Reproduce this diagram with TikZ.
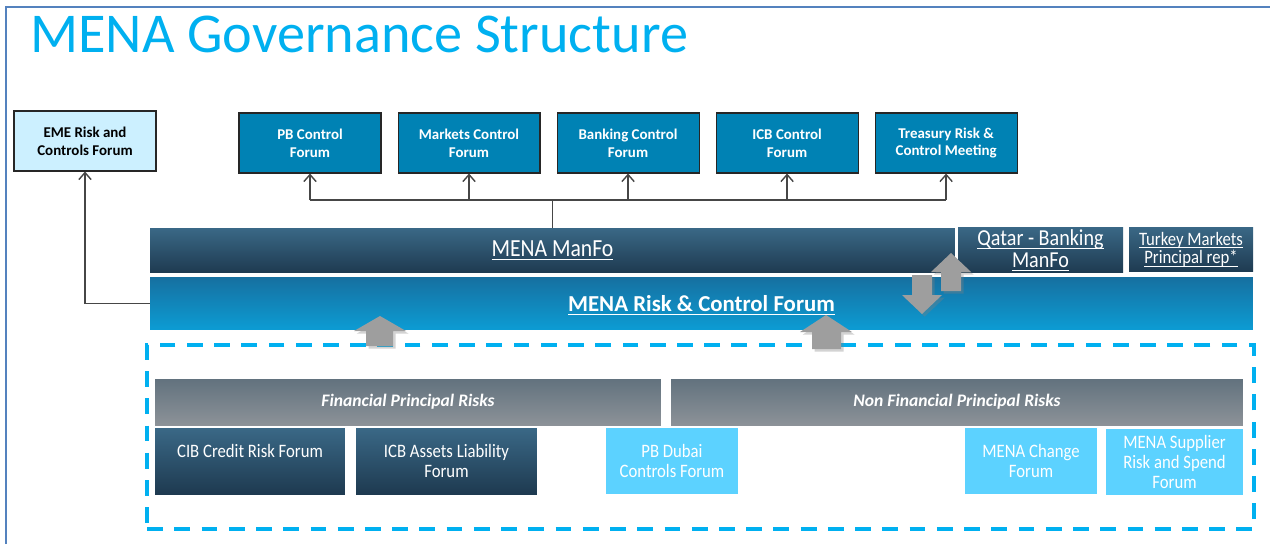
\documentclass[tikz,border=0pt]{standalone}
\usepackage{fontspec}
\setmainfont{Carlito}
\newfontfamily\condfont[FakeStretch=0.88]{Carlito}
\newcommand\ulbar[1]{\setbox0\hbox{#1}\rlap{\rule[-1.8pt]{\wd0}{0.55pt}}\box0}
\usepackage{tikz}
\usetikzlibrary{positioning,arrows.meta,shadows}
\definecolor{titlecyan}{RGB}{0,176,240}
\definecolor{frameblue}{RGB}{84,130,190}
\definecolor{forumblue}{RGB}{0,130,180}
\definecolor{emecyan}{RGB}{204,240,255}
\definecolor{navytop}{RGB}{58,104,134}
\definecolor{navybot}{RGB}{30,58,80}
\definecolor{risktop}{RGB}{22,112,160}
\definecolor{riskbot}{RGB}{12,156,212}
\definecolor{slatetop}{RGB}{98,114,126}
\definecolor{slatebot}{RGB}{140,146,152}
\definecolor{skycyan}{RGB}{92,210,255}
\definecolor{arrowgray}{RGB}{158,158,158}
\definecolor{linegray}{RGB}{70,70,70}
\tikzset{
  topforum/.style={draw=black!85,line width=0.6pt,fill=forumblue,text=white,minimum width=2.84cm,minimum height=1.2cm,inner sep=1pt,align=center,font=\fontsize{8.5}{10.2}\selectfont\bfseries},
  emebox/.style={topforum,fill=emecyan,text=black},
  navybar/.style={top color=navytop,bottom color=navybot,text=white,align=center,inner sep=0pt},
  riskbar/.style={top color=risktop,bottom color=riskbot,text=white,align=center,inner sep=0pt},
  slatebar/.style={top color=slatetop,bottom color=slatebot,text=white,inner sep=0pt,minimum height=0.92cm,font=\fontsize{10}{12}\selectfont\bfseries\itshape},
  lowdark/.style={navybar,minimum height=1.32cm,font=\condfont\fontsize{10.8}{11.4}\selectfont},
  lowlight/.style={fill=skycyan,text=white,align=center,inner sep=0pt,minimum height=1.32cm,font=\condfont\fontsize{10.8}{11.4}\selectfont},
  grpbox/.style={draw=titlecyan,line width=2.2pt,dash pattern=on 9pt off 6.5pt,minimum width=22.14cm,minimum height=3.68cm,inner sep=0pt},
  blockarrow/.style={fill=arrowgray,drop shadow={shadow xshift=1.5pt,shadow yshift=-1.5pt,opacity=0.35}},
  conn/.style={draw=linegray,line width=0.8pt},
}

\begin{document}
\begin{tikzpicture}[x=0.02cm,y=-0.02cm,>={Straight Barb[length=4pt,width=7pt]}]
\useasboundingbox (0,0) rectangle (1270,544);

\draw[frameblue,line width=1.2pt] (6,544) -- (6,7) -- (1270,7);
\node[anchor=base west,inner sep=0pt,text=titlecyan,font=\fontsize{32}{38}\selectfont] (title) at (30,53) {MENA Governance Structure};

% top forums
\node[emebox] (eme) at (85,141) {EME Risk and\\Controls Forum};
\node[topforum] (pb) at (310,143) {PB Control\\Forum};
\node[topforum,right=0.32cm of pb] (mkt) {Markets Control\\Forum};
\node[topforum,right=0.32cm of mkt] (bank) {Banking Control\\Forum};
\node[topforum,right=0.32cm of bank] (icb) {ICB Control\\Forum};
\node[topforum,right=0.32cm of icb] (trs) {Treasury Risk \&\\Control Meeting};

% manfo and risk forum
\node[navybar,minimum width=16.1cm,minimum height=0.9cm,font=\condfont\fontsize{14}{16}\selectfont] (manfo) at (552.5,250.5) {\ulbar{MENA ManFo}};
\node[navybar,minimum width=3.3cm,minimum height=0.92cm,font=\condfont\fontsize{13}{12.5}\selectfont] (qatar) at (1040.5,250) {\ulbar{Qatar - Banking}\\\ulbar{ManFo}};
\node[navybar,minimum width=2.48cm,minimum height=0.9cm,font=\condfont\fontsize{10.8}{10.8}\selectfont] (turkey) at (1191,249.5) {\ulbar{Turkey Markets}\\\ulbar{Principal rep*}};
\node[riskbar,minimum width=22.06cm,minimum height=1.06cm,text height=11pt,text depth=2pt,font=\fontsize{13}{15}\selectfont\bfseries] (risk) at (701.5,303.5) {\ulbar{MENA Risk \& Control Forum}};

\coordinate (split) at (552.5,200);
\draw[conn] (manfo.north) -- (split);
\draw[conn] (pb.south |- split) -- (trs.south |- split);
\foreach \n in {pb,mkt,bank,icb,trs}
  \draw[conn,->] (\n.south |- split) -- (\n.south);
\draw[conn,->] (risk.west) -| (eme.south);

% principal risk groups
\node[grpbox] (grp) at (700.5,437) {};
\node[slatebar,minimum width=10.12cm] (fin) at (408,402) {Financial Principal Risks};
\node[slatebar,minimum width=11.44cm] (nonfin) at (957,402) {Non Financial Principal Risks};
\node[lowdark,minimum width=3.8cm] (cib) at (250,461) {CIB Credit Risk Forum\\\mbox{}};
\node[lowdark,minimum width=3.62cm] (alf) at (446.5,461) {ICB Assets Liability\\Forum};
\node[lowlight,minimum width=2.64cm] (dubai) at (672,461) {PB Dubai\\Controls Forum};
\node[lowlight,minimum width=2.64cm] (change) at (1031,461) {MENA Change\\Forum};
\node[lowlight,minimum width=2.74cm] (supplier) at (1174.5,462) {MENA Supplier\\Risk and Spend\\Forum};

% block arrows
\fill[blockarrow] (366,346) -- (366,331) -- (354,331) -- (380,316) -- (406,331) -- (393,331) -- (393,346) -- cycle;
\fill[blockarrow] (812,349) -- (812,332) -- (800,332) -- (826,315) -- (852,332) -- (841,332) -- (841,349) -- cycle;
\fill[blockarrow] (912,275) -- (912,295) -- (902,295) -- (922,314) -- (942,295) -- (932,295) -- (932,275) -- cycle;
\fill[blockarrow] (941,291) -- (941,272) -- (931,272) -- (951,253) -- (971,272) -- (961,272) -- (961,291) -- cycle;

\end{tikzpicture}
\end{document}
